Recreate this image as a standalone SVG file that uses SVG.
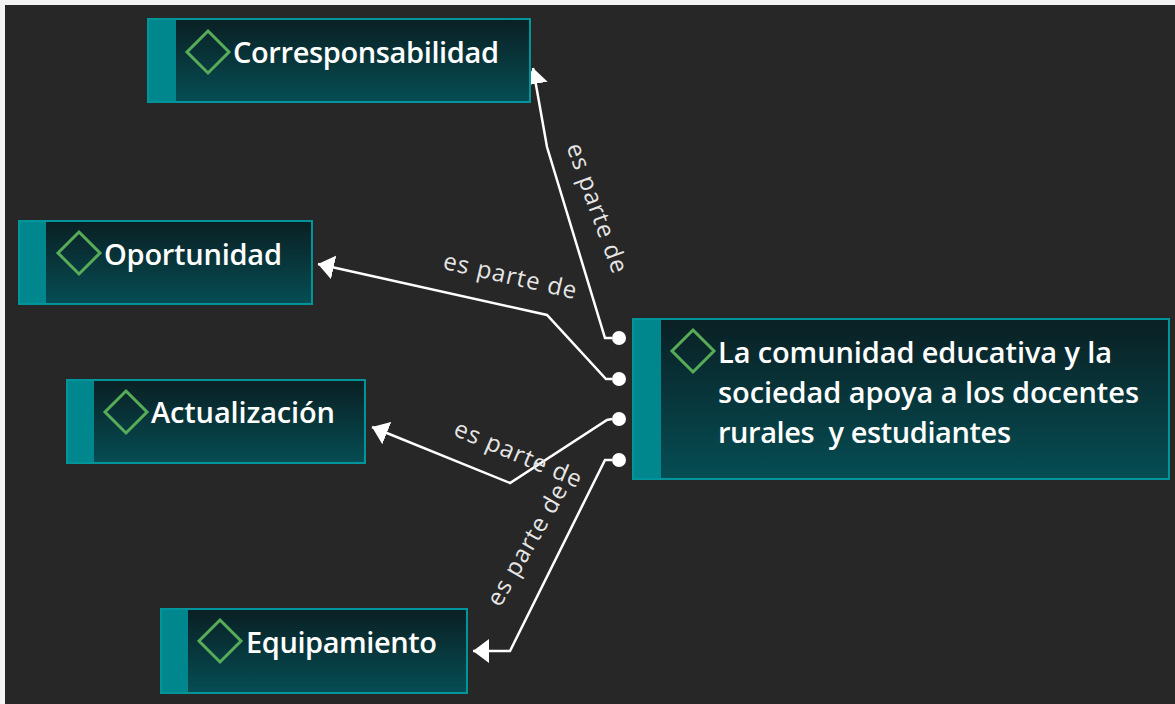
<svg xmlns="http://www.w3.org/2000/svg" width="1175" height="704" viewBox="0 0 1175 704">
<style>
.node-text{font-family:"Open Sans","Noto Sans","DejaVu Sans",sans-serif;font-weight:600;font-size:29px;fill:#ffffff;white-space:pre}
.lbl{font-family:"Open Sans","Noto Sans","DejaVu Sans",sans-serif;font-size:24px;fill:#e6e6e6;text-anchor:middle}
.outer{fill:#00878d;stroke:#00959b;stroke-width:2}
.inner{fill:url(#g)}
.dia{fill:none;stroke:#57ad57;stroke-width:3}
.conn{fill:none;stroke:#ffffff;stroke-width:2.5;stroke-linejoin:miter}
.dot{fill:#ffffff}
</style>
<defs>
<linearGradient id="g" x1="0" y1="0" x2="0" y2="1">
<stop offset="0" stop-color="#0a2024"/>
<stop offset="1" stop-color="#054d53"/>
</linearGradient>
<marker id="arr" markerUnits="userSpaceOnUse" markerWidth="17" markerHeight="26" viewBox="0 0 17 26" refX="16" refY="13" orient="auto">
<path d="M0,1 L16,13 L0,25 Z" fill="#ffffff"/>
</marker>
</defs>
<rect x="0" y="0" width="1175" height="704" fill="#f3f3f3"/>
<rect x="5" y="5" width="1170" height="699" fill="#272727"/>

<g id="connectors">
<path class="conn" d="M612,338 L605,338 L547,147 L533,68" marker-end="url(#arr)"/>
<path class="conn" d="M612,379 L606,379 L547,315 L318,264" marker-end="url(#arr)"/>
<path class="conn" d="M612,419 L607,420 L510,483 L372,427" marker-end="url(#arr)"/>
<path class="conn" d="M612,460 L605,460 L510,651 L473,651" marker-end="url(#arr)"/>
<circle class="dot" cx="619" cy="338" r="7"/>
<circle class="dot" cx="619" cy="379" r="7"/>
<circle class="dot" cx="619" cy="419" r="7"/>
<circle class="dot" cx="619" cy="460" r="7"/>
<text class="lbl" transform="translate(597,208) rotate(70)" x="0" y="8" textLength="136">es parte de</text>
<text class="lbl" transform="translate(510,276) rotate(13)" x="0" y="8" textLength="136">es parte de</text>
<text class="lbl" transform="translate(518,454) rotate(23)" x="0" y="8" textLength="136">es parte de</text>
<text class="lbl" transform="translate(534,549) rotate(-60)" x="0" y="0" textLength="136">es parte de</text>
</g>

<g id="node-corresponsabilidad">
<rect class="outer" x="148" y="19" width="382" height="83"/>
<rect class="inner" x="176" y="20" width="353" height="81"/>
<path class="dia" d="M208,31 L229,52 L208,73 L187,52 Z"/>
<text class="node-text" x="233" y="63" textLength="266">Corresponsabilidad</text>
</g>

<g id="node-oportunidad">
<rect class="outer" x="19" y="221" width="293" height="83"/>
<rect class="inner" x="46" y="222" width="265" height="81"/>
<path class="dia" d="M79,232 L100,253 L79,274 L58,253 Z"/>
<text class="node-text" x="104" y="265" textLength="178">Oportunidad</text>
</g>

<g id="node-actualizacion">
<rect class="outer" x="67" y="380" width="298" height="83"/>
<rect class="inner" x="94" y="381" width="270" height="81"/>
<path class="dia" d="M126,391 L147,412 L126,433 L105,412 Z"/>
<text class="node-text" x="151" y="423" textLength="184">Actualización</text>
</g>

<g id="node-equipamiento">
<rect class="outer" x="161" y="609" width="306" height="84"/>
<rect class="inner" x="188" y="610" width="278" height="82"/>
<path class="dia" d="M220,620 L241,641 L220,662 L199,641 Z"/>
<text class="node-text" x="246" y="653" textLength="191">Equipamiento</text>
</g>

<g id="node-main">
<rect class="outer" x="633" y="319" width="536" height="160"/>
<rect class="inner" x="661" y="320" width="507" height="158"/>
<path class="dia" d="M693,330 L714,351 L693,372 L672,351 Z"/>
<text class="node-text" x="718" y="363" textLength="394">La comunidad educativa y la</text>
<text class="node-text" x="718" y="403" textLength="421">sociedad apoya a los docentes</text>
<text class="node-text" x="718" y="443" textLength="293">rurales  y estudiantes</text>
</g>
</svg>
